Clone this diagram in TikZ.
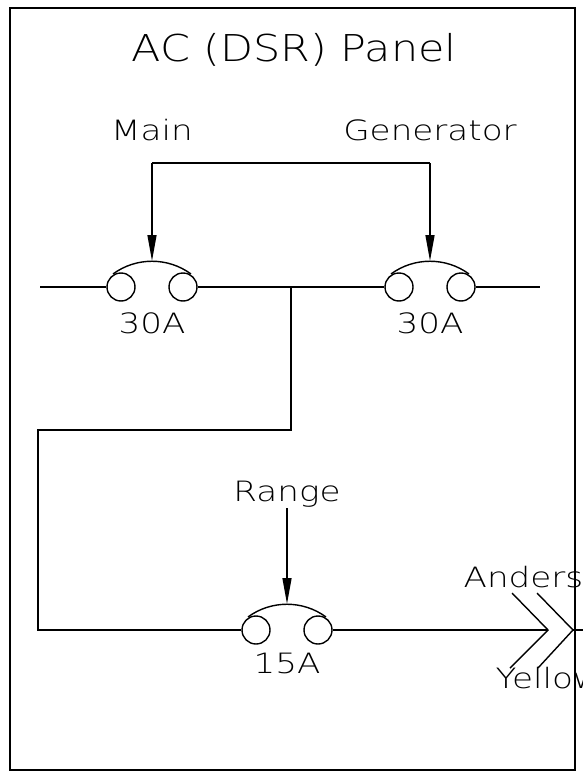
\documentclass[tikz,border=0pt]{standalone}
\usepackage{fontspec}
\IfFontExistsTF{DejaVuSans-ExtraLight.ttf}
  {\newfontfamily\cadfont{DejaVuSans-ExtraLight.ttf}[FakeStretch=1.22]
   \newfontfamily\titlefont{DejaVuSans-ExtraLight.ttf}[FakeStretch=1.16]}
  {\newfontfamily\cadfont{DejaVu Sans Mono}
   \newfontfamily\titlefont{DejaVu Sans Mono}}
\usetikzlibrary{arrows.meta}

\begin{document}
\begin{tikzpicture}[x=1pt,y=-1pt,line width=1.4pt,
    cb/.style={draw,circle,minimum size=28pt,inner sep=0pt},
    lbl/.style={font=\cadfont\fontsize{28}{28}\selectfont,inner sep=0pt,anchor=base},
    feed/.style={-{Triangle[length=26pt,width=9pt]}}]
  \useasboundingbox (0,0) rectangle (582,776);
  \draw (10,8) rectangle (575,770);
  \node[font=\titlefont\fontsize{37}{37}\selectfont,inner sep=0pt,anchor=base] (title) at (294,62) {AC (DSR) Panel};
  % breakers
  \foreach \n/\x/\y in {m/152/287, g/430/287, r/287/630}{
    \node[cb] (\n-l) at (\x-31,\y) {};
    \node[cb] (\n-r) at (\x+31,\y) {};
    \draw (\x-39,\y-13) .. controls (\x-16,\y-30) and (\x+16,\y-30) .. (\x+39,\y-13);
    \coordinate (\n-top) at (\x,\y-26);
  }
  \node[lbl] (m-amp) at (152,333) {30A};
  \node[lbl] (g-amp) at (430,333) {30A};
  \node[lbl] (r-amp) at (287,673) {15A};
  \node[lbl] (main) at (152,140) {Main};
  \node[lbl] (gen) at (430,140) {Generator};
  \node[lbl] (range) at (287,501) {Range};
  \node[lbl,anchor=base west] (anders) at (463,587) {Anders};
  \node[lbl,anchor=base west] (yellow) at (495,688) {Yellow};
  % feeds
  \coordinate (m-feed) at (152,163);
  \coordinate (g-feed) at (430,163);
  \coordinate (r-feed) at (287,508);
  \draw (m-feed) -- (g-feed);
  \draw[feed] (m-feed) -- (m-top);
  \draw[feed] (g-feed) -- (g-top);
  \draw[feed] (r-feed) -- (r-top);
  % bus
  \coordinate (in) at (40,287);
  \coordinate (out) at (540,287);
  \coordinate (jn) at (291,287);
  \draw (in) -- (m-l);
  \draw (m-r) -- (g-l);
  \draw (g-r) -- (out);
  \draw (jn) |- (38,430) |- (r-l);
  % plug
  \coordinate (plug) at (548,630);
  \coordinate (sock) at (573,630);
  \draw (r-r) -- (plug);
  \draw (512,593) -- (plug) -- (510,668);
  \draw (537,593) -- (sock) -- (538,668);
  \draw (sock) -- (590,630);
\end{tikzpicture}
\end{document}
